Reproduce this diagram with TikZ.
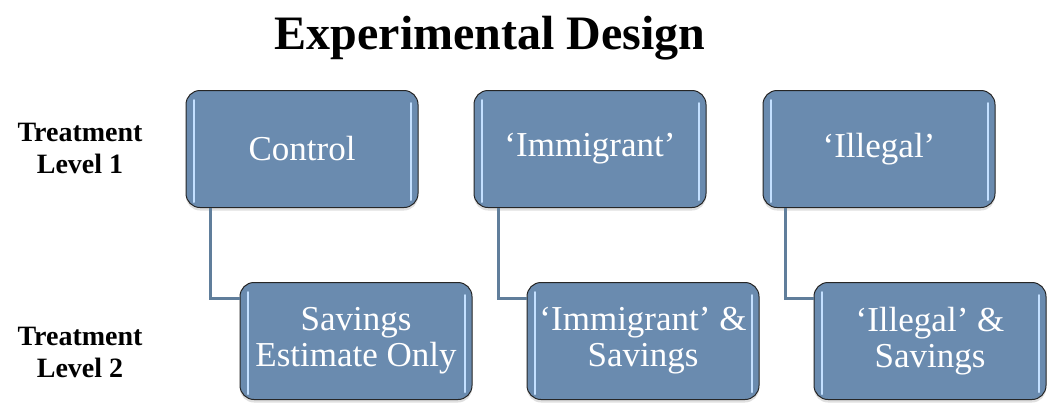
\documentclass[tikz,border=0pt]{standalone}
\usepackage{fontspec}
\setmainfont{Liberation Serif}
\usepackage{tikz}
\usetikzlibrary{positioning,shadows}

\definecolor{boxblue}{HTML}{6A8BAF}
\definecolor{linkblue}{HTML}{607E9B}
\definecolor{shine}{HTML}{C4E0FF}

\tikzset{
    groupbox/.style={draw=black!85, line width=1pt, fill=boxblue, rounded corners=14pt,
        minimum width=232pt, minimum height=117pt, align=center, text=white,
        font=\fontsize{35}{36}\selectfont,
        drop shadow={shadow xshift=0pt, shadow yshift=-3pt, opacity=0.25}},
    link/.style={draw=linkblue, line width=3pt},
    level/.style={align=center, font=\bfseries\fontsize{28}{32}\selectfont}
}

\begin{document}
\begin{tikzpicture}[x=1pt, y=-1pt]
    \useasboundingbox (0,0) rectangle (1048,405);

    % Title
    \node (title) at (490,38) {\bfseries\fontsize{48}{52}\selectfont Experimental Design};

    % Row labels
    \node[level] (lvlone) at (80,148) {Treatment\\Level 1};
    \node[level] (lvltwo) at (80,352) {Treatment\\Level 2};

    % Treatment level 1 boxes
    \node[groupbox] (ctrl) at (302,149) {Control};
    \node[groupbox] (immi) at (590,149) {‘Immigrant’};
    \node[groupbox] (ille) at (879,149) {‘Illegal’};

    % Treatment level 2 boxes
    \node[groupbox] (sav)     at (356,341) {Savings\\Estimate Only};
    \node[groupbox] (immisav) at (643,341) {‘Immigrant’ \&\\Savings};
    \node[groupbox] (illesav) at (930,341) {‘Illegal’ \&\\Savings};

    % Highlights inside each box
    \foreach \b in {ctrl,immi,ille,sav,immisav,illesav} {
        \draw[shine, line width=2pt, line cap=round]
            ([xshift=8pt,yshift=-10pt]\b.north west) -- ([xshift=8pt,yshift=6pt]\b.south west);
        \draw[shine, line width=2pt, line cap=round]
            ([xshift=-8pt,yshift=-13pt]\b.north east) -- ([xshift=-8pt,yshift=8pt]\b.south east);
    }

    % Connectors between the levels
    \draw[link] ([xshift=25pt]ctrl.south west) |- ([yshift=43pt]sav.west);
    \draw[link] ([xshift=25pt]immi.south west) |- ([yshift=43pt]immisav.west);
    \draw[link] ([xshift=23pt]ille.south west) |- ([yshift=43pt]illesav.west);
\end{tikzpicture}
\end{document}
